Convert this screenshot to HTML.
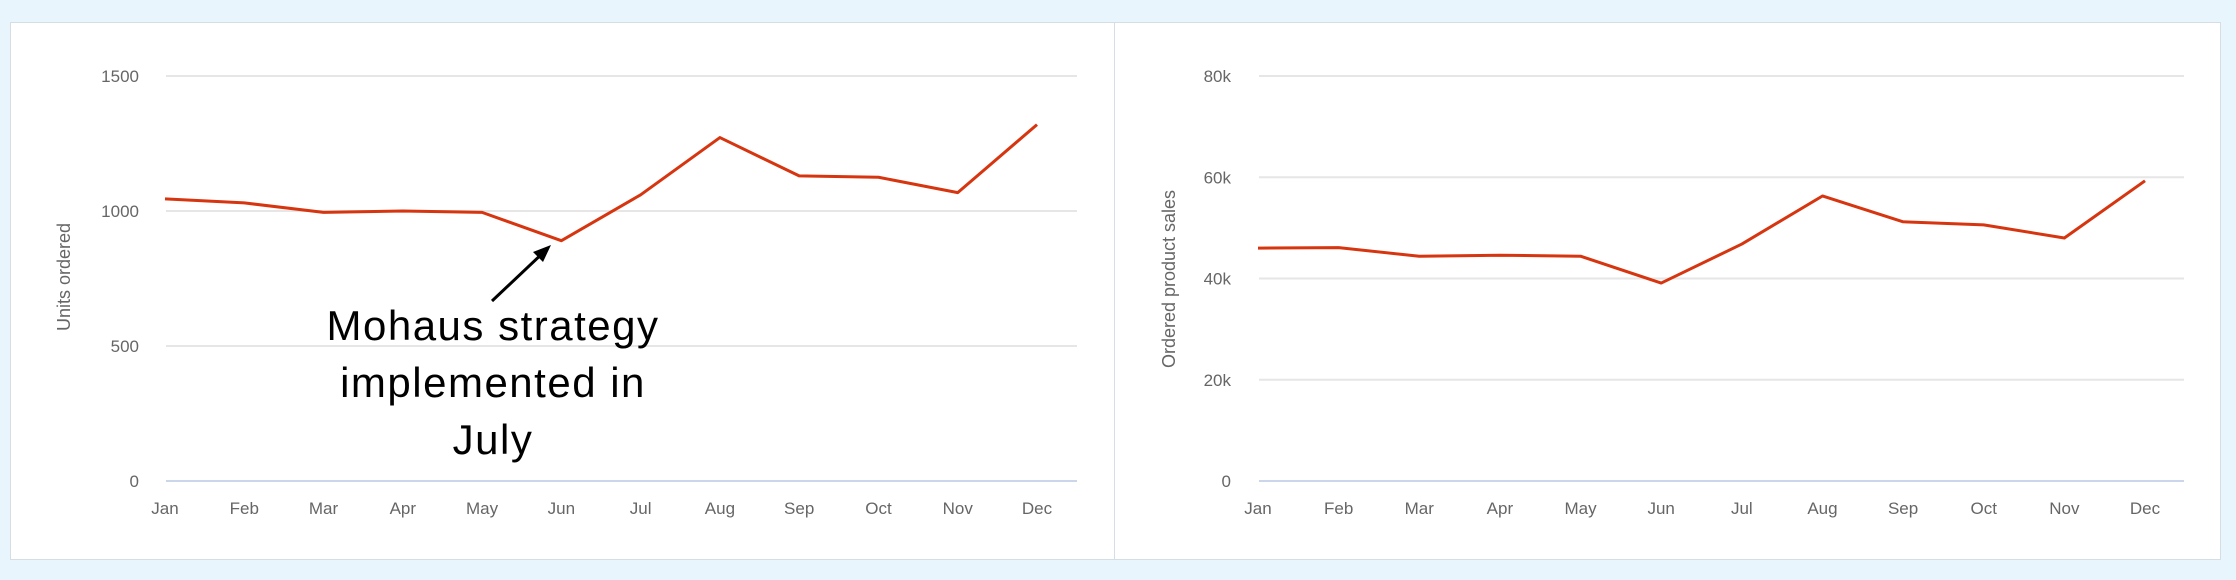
<!DOCTYPE html>
<html><head><meta charset="utf-8"><style>
html,body{margin:0;padding:0;background:#e9f5fd;width:2236px;height:580px;overflow:hidden;font-family:"Liberation Sans",sans-serif}
.panel{position:absolute;top:22px;height:538px;background:#fff;border:1px solid #d5dde5;box-sizing:border-box}
svg{position:absolute;left:0;top:0}
</style></head><body>
<div class="panel" style="left:10px;width:1105px"></div>
<div class="panel" style="left:1114px;width:1107px"></div>
<svg width="2236" height="580" id="svg"></svg>
<script>
const months=["Jan","Feb","Mar","Apr","May","Jun","Jul","Aug","Sep","Oct","Nov","Dec"];
const unitsValues=[1045,1030,995,1000,995,890,1060,1272,1130,1125,1068,1320];
const unitsTicks=[0,500,1000,1500];
const salesValues=[46000,46100,44400,44600,44400,39100,46800,56300,51200,50600,48000,59300];
const salesTicks=[0,20000,40000,60000,80000];
const salesTickLabels=["0","20k","40k","60k","80k"];
const NS="http://www.w3.org/2000/svg";
const svg=document.getElementById('svg');
function mk(t,a,txt){const e=document.createElementNS(NS,t);for(const k in a)e.setAttribute(k,a[k]);if(txt!==undefined)e.textContent=txt;svg.appendChild(e);return e;}
function chart(o){
  const x=i=>o.x0+i*(o.x1-o.x0)/11;
  const y=v=>o.yb-(v/o.max)*(o.yb-o.yt);
  o.ticks.forEach((t,i)=>{
    const g=mk('line',{x1:o.gl,x2:o.gr,y1:y(t),y2:y(t),stroke:t===0?'#ccd6eb':'#e6e6e6','stroke-width':2});
    
    
    const l=mk('text',{x:o.lx,y:y(t)+6,'text-anchor':'end','font-size':17,fill:'#666'},o.labels[i]);
    
    
  });
  months.forEach((m,i)=>{
    const l=mk('text',{x:x(i),y:514,'text-anchor':'middle','font-size':17,fill:'#666'},m);
    
    
  });
  const p=mk('polyline',{points:o.vals.map((v,i)=>x(i)+','+y(v)).join(' '),fill:'none',stroke:'#d6350f','stroke-width':3,'stroke-linejoin':'round'});
  
  
  const t=mk('text',{transform:`translate(${o.tx},${o.ty}) rotate(-90)`,'text-anchor':'middle','font-size':18,fill:'#666'},o.title);
  
  
}
chart({name:'units',x0:165,x1:1037,gl:166,gr:1077,yt:76,yb:481,max:1500,ticks:unitsTicks,labels:unitsTicks.map(String),vals:unitsValues,lx:139,tx:70,ty:277,title:'Units ordered'});
chart({name:'sales',x0:1258,x1:2145,gl:1259,gr:2184,yt:76,yb:481,max:80000,ticks:salesTicks,labels:salesTickLabels,vals:salesValues,lx:1231,tx:1175,ty:279,title:'Ordered product sales'});
const a=mk('line',{x1:492,y1:301,x2:546,y2:250,stroke:'#000','stroke-width':3});


const h=mk('polygon',{points:'551,245 533,252 543,262',fill:'#000'});


["Mohaus strategy","implemented in","July"].forEach((s,i)=>{
  const t=mk('text',{x:493,y:340+i*57,'text-anchor':'middle','font-size':42,'letter-spacing':'1.5',fill:'#000'},s);
  
  
});
</script>
</body></html>
